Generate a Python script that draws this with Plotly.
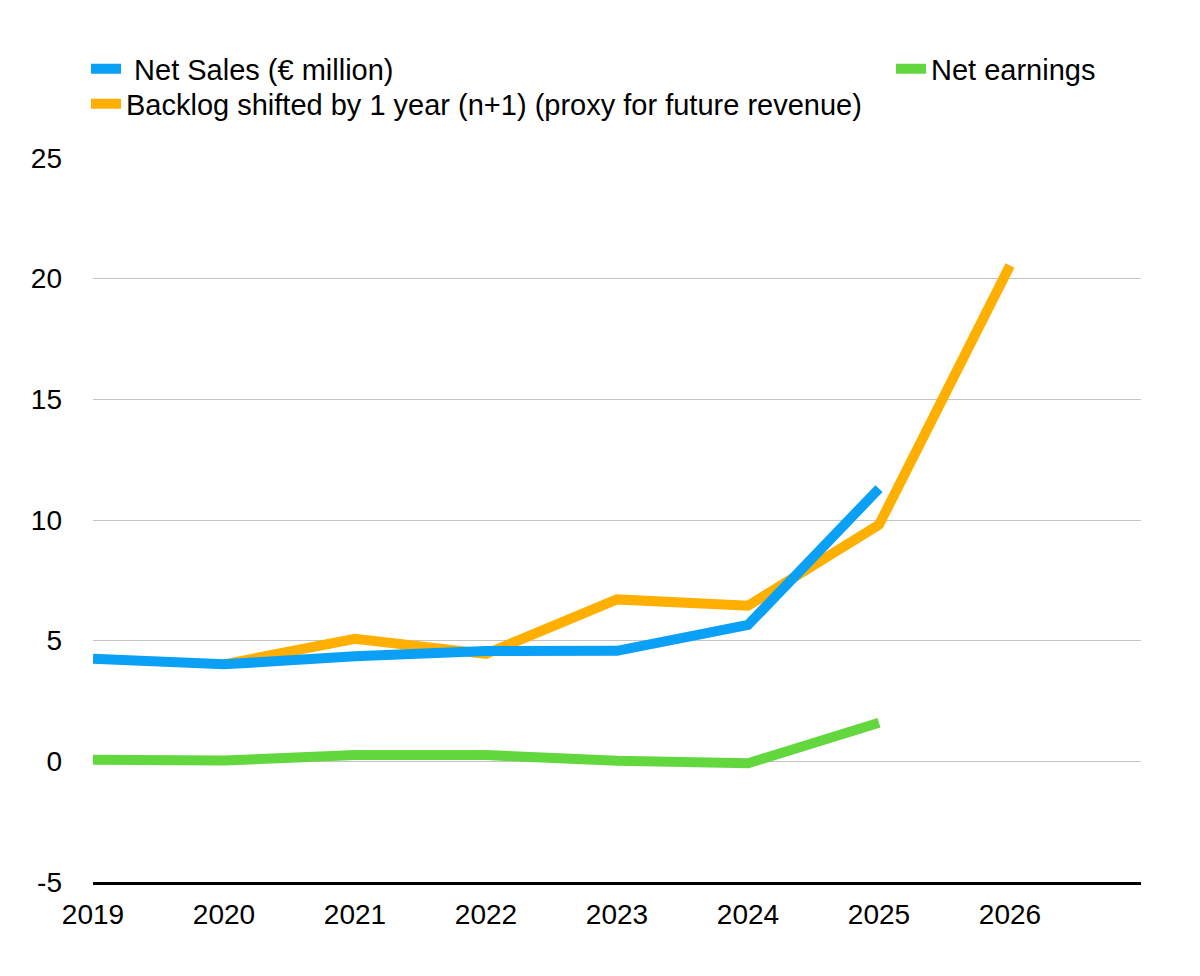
import plotly.graph_objects as go

years = [2019, 2020, 2021, 2022, 2023, 2024, 2025]
net_sales = [4.25, 4.02, 4.35, 4.57, 4.58, 5.65, 11.3]
backlog_years = [2020, 2021, 2022, 2023, 2024, 2025, 2026]
backlog = [4.02, 5.08, 4.45, 6.71, 6.45, 9.8, 20.55]
net_earnings = [0.07, 0.03, 0.26, 0.26, 0.02, -0.08, 1.6]
x_ticks = [2019, 2020, 2021, 2022, 2023, 2024, 2025, 2026]
y_ticks = [-5, 0, 5, 10, 15, 20, 25]
y_tick_text = ["-5", "0", "5", "10", "15", "20", "25"]

BLUE = "#0AA0F6"
ORANGE = "#FEAF00"
GREEN = "#63D83E"
FONT = "Liberation Sans, Arial, Helvetica, sans-serif"

fig = go.Figure()
fig.add_trace(go.Scatter(x=backlog_years, y=backlog, mode="lines",
                         name="Backlog shifted by 1 year (n+1) (proxy for future revenue)",
                         line=dict(color=ORANGE, width=10), legend="legend2"))
fig.add_trace(go.Scatter(x=years, y=net_sales, mode="lines",
                         name=" Net Sales (€ million)",
                         line=dict(color=BLUE, width=10), legend="legend"))
fig.add_trace(go.Scatter(x=years, y=net_earnings, mode="lines",
                         name="Net earnings",
                         line=dict(color=GREEN, width=10), legend="legend3"))

W, H = 1200, 976
leg_common = dict(xref="container", yref="container", xanchor="left", yanchor="middle",
                  font=dict(size=29, color="black", family=FONT),
                  bgcolor="rgba(0,0,0,0)", itemwidth=30)

fig.update_layout(
    width=W, height=H,
    margin=dict(l=93, r=59, t=158, b=94, autoexpand=False),
    paper_bgcolor="white", plot_bgcolor="white",
    font=dict(family=FONT, size=28, color="black"),
    showlegend=True,
    legend=dict(x=86 / W, y=1 - 69 / H, **leg_common),
    legend2=dict(x=86 / W, y=1 - 104 / H, **leg_common),
    legend3=dict(x=891 / W, y=1 - 69 / H, **leg_common),
    xaxis=dict(range=[2019, 2027], tickmode="array", tickvals=x_ticks,
               ticktext=[str(v) for v in x_ticks],
               showgrid=False, zeroline=False,
               showline=True, linecolor="black", linewidth=2.5,
               ticks="", ticklabelstandoff=6,
               tickfont=dict(size=28, color="black", family=FONT)),
    yaxis=dict(range=[-5, 25], tickmode="array", tickvals=y_ticks,
               ticktext=y_tick_text,
               showgrid=True, gridcolor="#C4C4C4", gridwidth=1.2,
               zeroline=False, showline=False, ticks="",
               ticklabelstandoff=30,
               tickfont=dict(size=28, color="black", family=FONT)),
)

fig.write_html("out.html")
